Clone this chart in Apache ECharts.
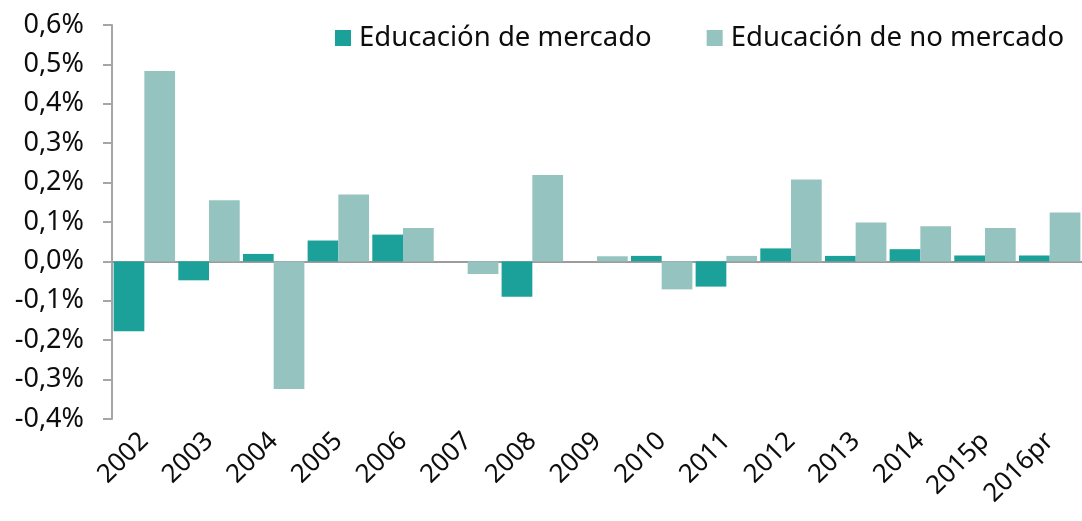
<!DOCTYPE html>
<html>
<head>
<meta charset="utf-8">
<script src="https://cdn.jsdelivr.net/npm/echarts@6/dist/echarts.min.js"></script>
<style>
  html, body { margin: 0; padding: 0; background: #fff; }
  #main { width: 1082px; height: 521px; }
</style>
</head>
<body>
<div id="main"></div>
<script>
const years = ['2002', '2003', '2004', '2005', '2006', '2007', '2008', '2009', '2010', '2011', '2012', '2013', '2014', '2015p', '2016pr']
// contribución en puntos porcentuales (%)
const mercado = [-0.177, -0.048, 0.019, 0.053, 0.068, 0, -0.090, 0, 0.014, -0.064, 0.033, 0.014, 0.031, 0.015, 0.015]
const noMercado = [0.483, 0.155, -0.324, 0.170, 0.085, -0.032, 0.219, 0.013, -0.071, 0.014, 0.208, 0.099, 0.089, 0.085, 0.124]
const yTicks = { min: -0.4, max: 0.6, interval: 0.1 }

const FONT = 'Noto Sans'
const axisGray = '#A6A6A6'

const chart = echarts.init(document.getElementById('main'))

const option = {
  animation: false,
  textStyle: { fontFamily: FONT },
  grid: {
    left: 112,
    right: 0,
    top: 25,
    bottom: 102
  },
  legend: {
    left: 330,
    top: 19,
    itemWidth: 16,
    itemHeight: 16,
    itemGap: 55,
    icon: 'rect',
    textStyle: {
      fontFamily: FONT,
      fontSize: 27.5,
      color: '#0d0d0d',
      padding: [0, 0, 0, 3]
    },
    data: ['Educación de mercado', 'Educación de no mercado']
  },
  xAxis: [{
    // eje en cero, sólo línea y marcas
    type: 'category',
    data: years,
    position: 'bottom',
    axisLine: {
      onZero: true,
      lineStyle: { color: '#9C9C9C', width: 2 }
    },
    axisTick: {
      length: 9,
      lineStyle: { color: '#9C9C9C', width: 2 }
    },
    axisLabel: { show: false }
  }, {
    // etiquetas abajo
    type: 'category',
    data: years,
    position: 'bottom',
    axisLine: { show: false, onZero: false },
    axisTick: { show: false },
    axisLabel: {
      rotate: 45,
      margin: 18,
      fontFamily: FONT,
      fontSize: 26,
      color: '#0d0d0d'
    }
  }],
  yAxis: {
    type: 'value',
    min: yTicks.min,
    max: yTicks.max,
    interval: yTicks.interval,
    axisLine: {
      show: true,
      lineStyle: { color: axisGray, width: 2 }
    },
    axisTick: {
      show: true,
      length: 9,
      lineStyle: { color: axisGray, width: 2 }
    },
    splitLine: { show: false },
    axisLabel: {
      margin: 28,
      fontFamily: FONT,
      fontSize: 27,
      color: '#0d0d0d',
      formatter: v => v.toFixed(1).replace('.', ',') + '%'
    }
  },
  series: [{
    name: 'Educación de mercado',
    type: 'bar',
    xAxisIndex: 0,
    data: mercado,
    barGap: '0%',
    barCategoryGap: '5%',
    itemStyle: { color: '#1BA19A' }
  }, {
    name: 'Educación de no mercado',
    type: 'bar',
    xAxisIndex: 0,
    data: noMercado,
    itemStyle: { color: '#95C4C0' }
  }]
}

chart.setOption(option)
</script>
</body>
</html>
